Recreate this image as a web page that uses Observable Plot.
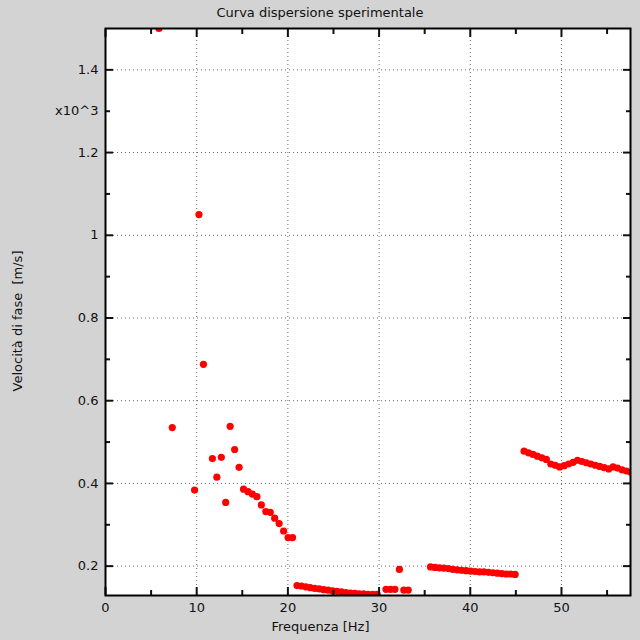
<!DOCTYPE html>
<html>
<head>
<meta charset="utf-8">
<script src="https://cdn.jsdelivr.net/npm/d3@7"></script>
<script src="https://cdn.jsdelivr.net/npm/@observablehq/plot@0.6"></script>
<style>
  html, body { margin: 0; padding: 0; background: #d3d3d3; }
  #title { width: 640px; height: 26px; box-sizing: border-box;
    text-align: center; font: 13px "DejaVu Sans", sans-serif; line-height: 26px; color: #111; }
  #chart svg { display: block; }
</style>
</head>
<body>
<div id="title">Curva dispersione sperimentale</div>
<div id="chart"></div>
<script>
// scattered low-frequency estimates
const freqA = [5.86, 7.32, 9.77, 10.25, 10.74, 11.72, 12.21, 12.70, 13.18, 13.67, 14.16, 14.65, 15.14, 15.63, 16.11, 16.60, 17.09, 17.58, 18.07, 18.55, 19.04, 19.53, 20.02, 20.51];
const velA  = [1.50, 0.535, 0.384, 1.05, 0.688, 0.460, 0.415, 0.463, 0.354, 0.538, 0.482, 0.439, 0.386, 0.380, 0.374, 0.368, 0.348, 0.332, 0.330, 0.316, 0.303, 0.285, 0.269, 0.269];
// low branch 21–33 Hz
const freqB = [21.00, 21.48, 21.97, 22.46, 22.95, 23.44, 23.93, 24.41, 24.90, 25.39, 25.88, 26.37, 26.86, 27.34, 27.83, 28.32, 28.81, 29.30, 29.79, 30.76, 31.25, 31.74, 32.23, 32.71, 33.20];
const velB  = [0.153, 0.152, 0.150, 0.148, 0.146, 0.145, 0.143, 0.142, 0.140, 0.139, 0.138, 0.136, 0.135, 0.134, 0.133, 0.133, 0.132, 0.132, 0.132, 0.144, 0.144, 0.144, 0.192, 0.142, 0.142];
// branch 35–45 Hz
const freqC = [35.64, 36.13, 36.62, 37.11, 37.60, 38.09, 38.57, 39.06, 39.55, 40.04, 40.53, 41.02, 41.50, 41.99, 42.48, 42.97, 43.46, 43.95, 44.43, 44.92];
const velC  = [0.198, 0.197, 0.196, 0.195, 0.194, 0.192, 0.191, 0.190, 0.189, 0.188, 0.187, 0.186, 0.186, 0.185, 0.184, 0.183, 0.182, 0.181, 0.181, 0.180];
// upper branch 46–58 Hz
const freqD = [45.90, 46.39, 46.88, 47.36, 47.85, 48.34, 48.83, 49.32, 49.80, 50.29, 50.78, 51.27, 51.76, 52.25, 52.73, 53.22, 53.71, 54.20, 54.69, 55.18, 55.66, 56.15, 56.64, 57.13, 57.62];
const velD  = [0.478, 0.474, 0.470, 0.466, 0.462, 0.458, 0.447, 0.444, 0.440, 0.443, 0.447, 0.451, 0.456, 0.453, 0.450, 0.447, 0.444, 0.441, 0.438, 0.435, 0.440, 0.437, 0.433, 0.430, 0.427];

const xMajor = [0, 10, 20, 30, 40, 50];
const xMinor = [5, 15, 25, 35, 45, 55];
const yMajor = [0.2, 0.4, 0.6, 0.8, 1.0, 1.2, 1.4];
const yMinor = [0.3, 0.5, 0.7, 0.9, 1.1, 1.3];
const yLabelTicks = [0.2, 0.4, 0.6, 0.8, 1.0, 1.2, 1.3, 1.4];
const xTitle = "Frequenza [Hz]";
const yTitle = "Velocità di fase\u00a0\u00a0[m/s]";
const xDomain = [0, 57.57];
const yDomain = [0.129, 1.5];

const pts = [];
[[freqA, velA], [freqB, velB], [freqC, velC], [freqD, velD]].forEach(([f, v]) => {
  f.forEach((fx, i) => pts.push({f: fx, v: v[i]}));
});

const fmtY = d => Math.abs(d - 1.3) < 1e-9 ? "x10^3" : d3.format("~g")(d);

const chart = Plot.plot({
  width: 640,
  height: 614,
  marginLeft: 105,
  marginRight: 10,
  marginTop: 2,
  marginBottom: 45,
  style: {background: "#d3d3d3", fontFamily: "DejaVu Sans, sans-serif", fontSize: "13px", color: "#111"},
  x: {domain: xDomain, axis: null},
  y: {domain: yDomain, axis: null},
  marks: [
    Plot.frame({fill: "white", stroke: "none"}),
    Plot.gridX(xMajor, {stroke: "#666", strokeOpacity: 1, strokeDasharray: "1,3"}),
    Plot.gridY(yMajor, {stroke: "#666", strokeOpacity: 1, strokeDasharray: "1,3"}),
    Plot.dot(pts, {x: "f", y: "v", r: 3.6, fill: "#f00", stroke: "none", clip: true}),
    // inward ticks on all four sides
    Plot.axisX(xMajor, {anchor: "bottom", tickSize: -8, tickFormat: () => "", strokeWidth: 2, label: null}),
    Plot.axisX(xMinor, {anchor: "bottom", tickSize: -5, tickFormat: () => "", strokeWidth: 2, label: null}),
    Plot.axisX(xMajor, {anchor: "top", tickSize: -8, tickFormat: () => "", strokeWidth: 2, label: null}),
    Plot.axisX(xMinor, {anchor: "top", tickSize: -5, tickFormat: () => "", strokeWidth: 2, label: null}),
    Plot.axisY(yMajor, {anchor: "left", tickSize: -8, tickFormat: () => "", strokeWidth: 2, label: null}),
    Plot.axisY(yMinor, {anchor: "left", tickSize: -5, tickFormat: () => "", strokeWidth: 2, label: null}),
    Plot.axisY(yMajor, {anchor: "right", tickSize: -8, tickFormat: () => "", strokeWidth: 2, label: null}),
    Plot.axisY(yMinor, {anchor: "right", tickSize: -5, tickFormat: () => "", strokeWidth: 2, label: null}),
    // tick labels
    Plot.axisX(xMajor, {anchor: "bottom", tickSize: 0, tickPadding: 7, label: null}),
    Plot.axisY(yLabelTicks, {anchor: "left", tickSize: 0, tickPadding: 7, tickFormat: fmtY, label: null}),
    Plot.frame({stroke: "#000", strokeWidth: 2}),
    Plot.text([xTitle], {frameAnchor: "bottom", dy: 31, dx: -47.5, textAnchor: "middle", lineAnchor: "middle", text: d => d, fill: "#111"}),
    Plot.text([yTitle], {frameAnchor: "left", dx: -88, dy: 9, rotate: -90, textAnchor: "middle", lineAnchor: "middle", text: d => d, fill: "#111"})
  ]
});
document.getElementById("chart").appendChild(chart);
</script>
</body>
</html>
